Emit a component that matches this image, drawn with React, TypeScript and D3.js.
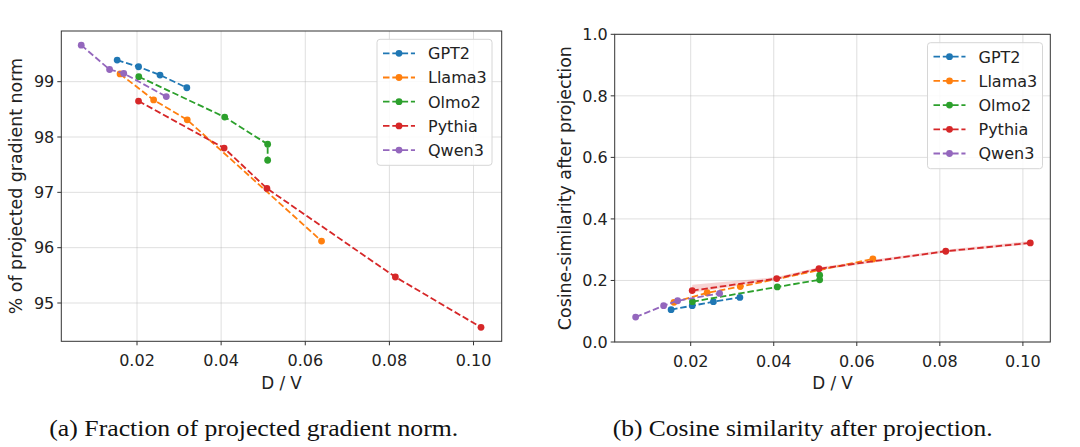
import React from "react";
import * as d3 from "d3";

const models = ["GPT2", "Llama3", "Olmo2", "Pythia", "Qwen3"];
const colors = ["#1f77b4", "#ff7f0e", "#2ca02c", "#d62728", "#9467bd"];

// D / V per model
const gpt2DV = [0.01528, 0.02037, 0.02547, 0.03184];
const llamaDV = [0.01597, 0.02395, 0.03194, 0.06387];
const olmoDV = [0.02042, 0.04085, 0.05106, 0.05106];
const pythiaDV = [0.02036, 0.04071, 0.05089, 0.08142, 0.10178];
const qwenDV = [0.00674, 0.01348, 0.01685, 0.02696];

// (a) % of projected gradient norm
const gpt2Frac = [99.39, 99.27, 99.12, 98.89];
const llamaFrac = [99.14, 98.67, 98.31, 96.12];
const olmoFrac = [99.09, 98.36, 97.87, 97.58];
const pythiaFrac = [98.65, 97.8, 97.07, 95.47, 94.56];
const qwenFrac = [99.66, 99.22, 99.15, 98.73];

// (b) cosine similarity after projection
const gpt2Cos = [0.105, 0.118, 0.131, 0.145];
const llamaCos = [0.129, 0.16, 0.18, 0.27];
const olmoCos = [0.131, 0.179, 0.202, 0.217];
const pythiaCos = [0.167, 0.206, 0.238, 0.295, 0.322];
const qwenCos = [0.081, 0.118, 0.134, 0.158];
const pythiaCosLo = [0.16, 0.202, 0.233, 0.291, 0.317];
const pythiaCosHi = [0.186, 0.211, 0.243, 0.3, 0.328];

const xTicks = [0.02, 0.04, 0.06, 0.08, 0.1];
const fracTicks = [95, 96, 97, 98, 99];
const cosTicks = [0, 0.2, 0.4, 0.6, 0.8, 1.0];

const dvs = [gpt2DV, llamaDV, olmoDV, pythiaDV, qwenDV];
const fracs = [gpt2Frac, llamaFrac, olmoFrac, pythiaFrac, qwenFrac];
const coss = [gpt2Cos, llamaCos, olmoCos, pythiaCos, qwenCos];

const FONT = "'DejaVu Sans', sans-serif";
const FS = 16;
const LFS = 17.4;

type PanelProps = {
  x0: number; x1: number; y0: number; y1: number;
  xDomain: [number, number]; yDomain: [number, number];
  ys: number[][]; yTicks: number[]; yFmt: (v: number) => string;
  yLabel: string; yLabelX: number;
  legendX: number; legendY: number;
  band?: { x: number[]; lo: number[]; hi: number[] };
};

function Panel(p: PanelProps) {
  const xs = d3.scaleLinear().domain(p.xDomain).range([p.x0, p.x1]);
  const ys = d3.scaleLinear().domain(p.yDomain).range([p.y1, p.y0]);
  const line = d3.line<[number, number]>().x((d) => xs(d[0])).y((d) => ys(d[1]));
  const area = d3
    .area<number>()
    .x((i) => xs(p.band!.x[i]))
    .y0((i) => ys(p.band!.lo[i]))
    .y1((i) => ys(p.band!.hi[i]));
  const lw = 1.8;
  const dash = "6.5,2.8";
  const legW = 115;
  const legH = 126;
  return (
    <g>
      {xTicks.map((t) => (
        <line key={"gx" + t} x1={xs(t)} x2={xs(t)} y1={p.y0} y2={p.y1} stroke="#b0b0b0" strokeOpacity={0.4} strokeWidth={1} />
      ))}
      {p.yTicks.map((t) => (
        <line key={"gy" + t} x1={p.x0} x2={p.x1} y1={ys(t)} y2={ys(t)} stroke="#b0b0b0" strokeOpacity={0.4} strokeWidth={1} />
      ))}
      {p.band && (
        <path d={area(p.band.x.map((_, i) => i)) || ""} fill={colors[3]} fillOpacity={0.2} stroke="none" />
      )}
      {models.map((m, k) => {
        const pts: [number, number][] = dvs[k].map((x, i) => [x, p.ys[k][i]]);
        return (
          <g key={m}>
            <path d={line(pts) || ""} fill="none" stroke={colors[k]} strokeWidth={lw} strokeDasharray={dash} />
            {pts.map((d, i) => (
              <circle key={i} cx={xs(d[0])} cy={ys(d[1])} r={3.4} fill={colors[k]} />
            ))}
          </g>
        );
      })}
      <rect x={p.x0} y={p.y0} width={p.x1 - p.x0} height={p.y1 - p.y0} fill="none" stroke="#333" strokeWidth={1} />
      {xTicks.map((t) => (
        <g key={"xt" + t}>
          <line x1={xs(t)} x2={xs(t)} y1={p.y1} y2={p.y1 + 4} stroke="#333" strokeWidth={1} />
          <text x={xs(t)} y={p.y1 + 24.5} textAnchor="middle" fontFamily={FONT} fontSize={FS} fill="#222">
            {t.toFixed(2)}
          </text>
        </g>
      ))}
      {p.yTicks.map((t) => (
        <g key={"yt" + t}>
          <line x1={p.x0 - 4} x2={p.x0} y1={ys(t)} y2={ys(t)} stroke="#333" strokeWidth={1} />
          <text x={p.x0 - 7} y={ys(t) + 5.8} textAnchor="end" fontFamily={FONT} fontSize={FS} fill="#222">
            {p.yFmt(t)}
          </text>
        </g>
      ))}
      <text x={(p.x0 + p.x1) / 2} y={388.5} textAnchor="middle" fontFamily={FONT} fontSize={16.8} fill="#222">
        D / V
      </text>
      <text
        transform={`translate(${p.yLabelX},${(p.y0 + p.y1) / 2}) rotate(-90)`}
        textAnchor="middle"
        fontFamily={FONT}
        fontSize={LFS}
        fill="#222"
        dy="0.35em"
      >
        {p.yLabel}
      </text>
      <rect x={p.legendX} y={p.legendY} width={legW} height={legH} rx={3} fill="#fff" fillOpacity={0.85} stroke="#d6d6d6" strokeWidth={1} />
      {models.map((m, k) => {
        const yy = p.legendY + 14 + k * 24.2;
        return (
          <g key={"lg" + m}>
            <line x1={p.legendX + 6} x2={p.legendX + 38} y1={yy} y2={yy} stroke={colors[k]} strokeWidth={lw} strokeDasharray={dash} />
            <circle cx={p.legendX + 22} cy={yy} r={3.4} fill={colors[k]} />
            <text x={p.legendX + 51} y={yy + 5.8} fontFamily={FONT} fontSize={FS} fill="#222">
              {m}
            </text>
          </g>
        );
      })}
    </g>
  );
}

export default function App() {
  return (
    <svg width={1080} height={447} style={{ position: "absolute", left: 0, top: 0, background: "#fff" }}>
      <rect width={1080} height={447} fill="#fff" />
      <Panel
        x0={61.3} x1={501.7} y0={31} y1={341.3}
        xDomain={[0.002, 0.1067]} yDomain={[94.308, 99.916]}
        ys={fracs} yTicks={fracTicks} yFmt={(v) => String(v)}
        yLabel="% of projected gradient norm" yLabelX={16}
        legendX={377} legendY={39.3}
      />
      <Panel
        x0={614.7} x1={1050.3} y0={34.3} y1={342}
        xDomain={[0.0017, 0.1066]} yDomain={[0, 1]}
        ys={coss} yTicks={cosTicks} yFmt={(v) => v.toFixed(1)}
        yLabel="Cosine-similarity after projection" yLabelX={565}
        legendX={927.5} legendY={42.7}
        band={{ x: pythiaDV, lo: pythiaCosLo, hi: pythiaCosHi }}
      />
      <text x={49.3} y={436} fontFamily="'Liberation Serif', 'DejaVu Serif', serif" fontSize={23} textLength={409} lengthAdjust="spacingAndGlyphs" fill="#111">
        (a) Fraction of projected gradient norm.
      </text>
      <text x={612.7} y={436} fontFamily="'Liberation Serif', 'DejaVu Serif', serif" fontSize={23} textLength={380} lengthAdjust="spacingAndGlyphs" fill="#111">
        (b) Cosine similarity after projection.
      </text>
    </svg>
  );
}
